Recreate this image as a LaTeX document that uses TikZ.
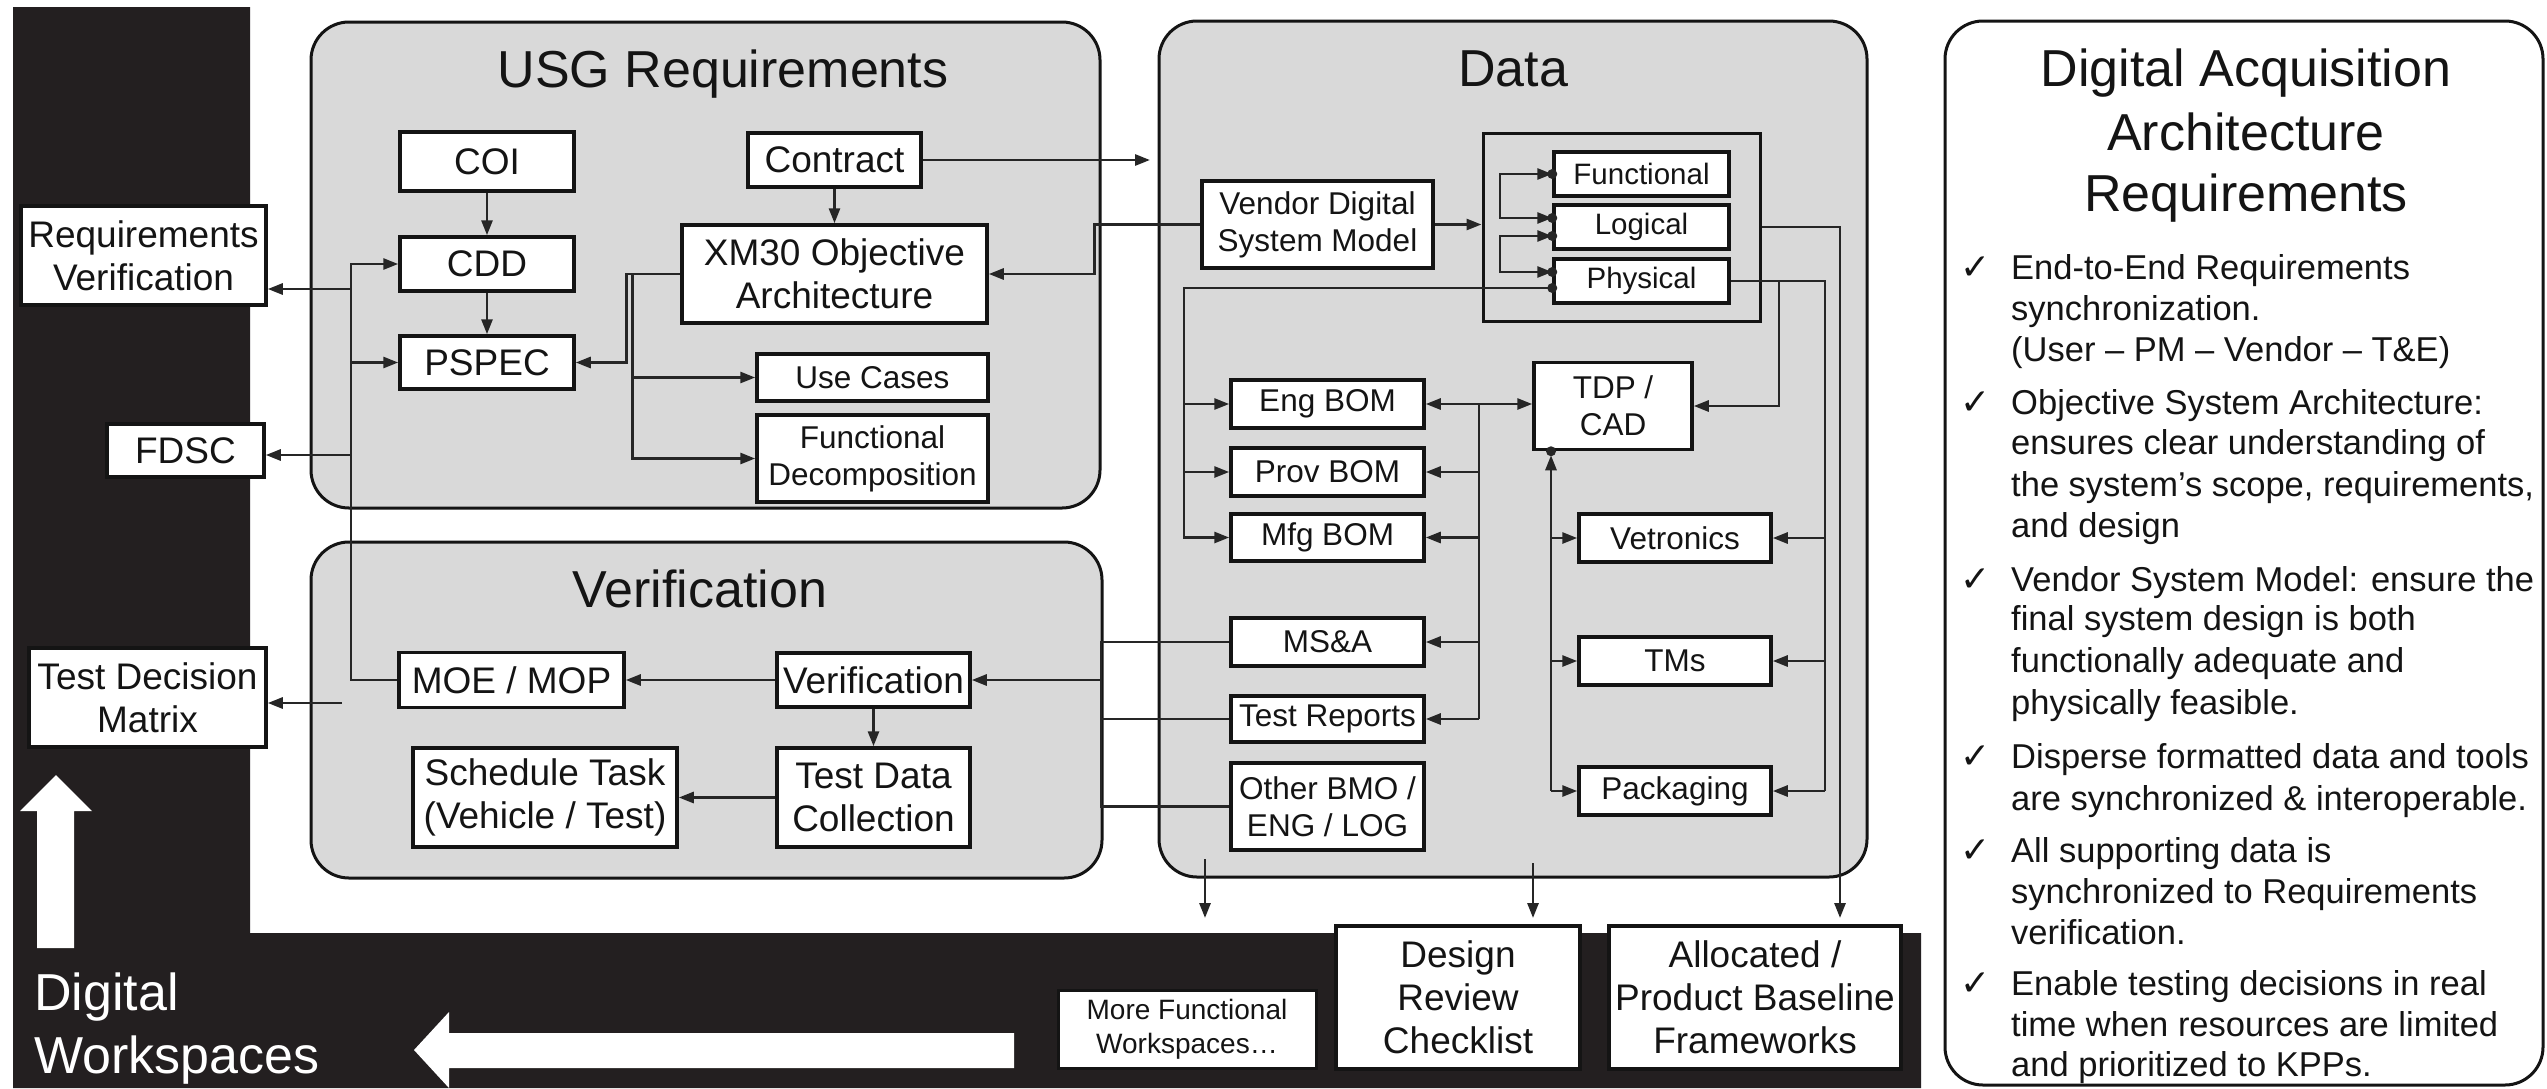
\documentclass[tikz,border=0pt]{standalone}
\usepackage{fontspec}
\setmainfont{Liberation Sans}
\newfontfamily\dejavu{DejaVu Sans}
\usetikzlibrary{arrows.meta,calc}
\definecolor{bandc}{HTML}{231F20}
\definecolor{grayf}{HTML}{D9D9D9}
\definecolor{linec}{HTML}{262626}
\definecolor{inkc}{HTML}{141414}
\begin{document}
\begin{tikzpicture}[x=1pt,y=-1pt,
  box/.style={draw=inkc, line width=3.5pt, fill=white, inner sep=0pt, align=center, text=inkc},
  bx/.style={box, font=\fontsize{37}{43}\selectfont},
  sbx/.style={box, font=\fontsize{31.5}{37}\selectfont},
  tbx/.style={box, font=\fontsize{29.5}{34}\selectfont},
  cont/.style={draw=inkc, line width=3pt, fill=grayf, rounded corners=38pt},
  ln/.style={draw=linec, line width=2.8pt},
  arr/.style={ln, -{Triangle[length=15pt,width=11pt]}},
  dbl/.style={ln, {Triangle[length=15pt,width=11pt]}-{Triangle[length=15pt,width=11pt]}},
  ttl/.style={font=\fontsize{52}{60}\selectfont, text=inkc, anchor=base, inner sep=0pt},
  body/.style={font=\fontsize{34.5}{41}\selectfont, text=inkc, anchor=base west, inner sep=0pt},
  dotc/.style={fill=linec}]
\useasboundingbox (0,0) rectangle (2547,1088);
\fill[white] (0,0) rectangle (2547,1088);
% black L band
\fill[bandc] (13,7) -- (250,7) -- (250,933) -- (1921,933) -- (1921,1088) -- (13,1088) -- cycle;
% white arrows
\fill[white] (37,948) -- (37,811) -- (20,811) -- (56,775) -- (92,811) -- (74,811) -- (74,948) -- cycle;
\fill[white] (1014,1033) -- (449,1033) -- (449,1012) -- (414,1050) -- (449,1088) -- (449,1068) -- (1014,1068) -- cycle;
\node[ttl, anchor=base west, text=white] (dw1) at (34,1010) {Digital};
\node[ttl, anchor=base west, text=white] (dw2) at (34,1073) {Workspaces};
% containers
\draw[cont] (311,22) rectangle (1100,508);
\draw[cont] (311,542) rectangle (1102,878);
\draw[cont] (1159,21) rectangle (1867,877);
\draw[draw=inkc, line width=3pt, fill=white, rounded corners=38pt] (1945,21) rectangle (2543,1085);
\node[ttl] (tUSG) at (723,87) {USG Requirements};
\node[ttl] (tVer) at (700,607) {Verification};
\node[ttl] (tData) at (1513,86) {Data};
% USG boxes
\node[bx, minimum width=174pt, minimum height=59pt] (COI) at (487,161.5) {COI};
\node[bx, minimum width=173pt, minimum height=54pt] (Contract) at (834.5,160) {Contract};
\node[bx, minimum width=174pt, minimum height=54pt] (CDD) at (487,264) {CDD};
\node[bx, minimum width=305pt, minimum height=98pt] (XM30) at (834.5,274) {XM30 Objective\\Architecture};
\node[bx, minimum width=174pt, minimum height=53pt] (PSPEC) at (487,362.5) {PSPEC};
\node[sbx, minimum width=231pt, minimum height=47pt] (UseCases) at (872.5,377.5) {Use Cases};
\node[sbx, minimum width=231pt, minimum height=87pt] (FuncDec) at (872.5,458.5) {Functional\\Decomposition};
% left boxes
\node[bx, minimum width=245pt, minimum height=99pt] (ReqVer) at (143.5,255.5) {Requirements\\Verification};
\node[bx, minimum width=157pt, minimum height=53pt] (FDSC) at (185.5,450.5) {FDSC};
\node[bx, minimum width=237pt, minimum height=99pt] (TDM) at (147.5,697.5) {Test Decision\\Matrix};
% Verification boxes
\node[bx, minimum width=225pt, minimum height=55pt] (MOE) at (511.5,680) {MOE / MOP};
\node[bx, minimum width=193pt, minimum height=54pt] (VerIn) at (873.5,680) {Verification};
\node[bx, minimum width=264pt, minimum height=99pt] (Sched) at (545,797.5) {Schedule Task\\(Vehicle / Test)};
\node[bx, minimum width=193pt, minimum height=99pt] (TDC) at (873.5,797.5) {Test Data\\Collection};
% Data boxes
\node[sbx, minimum width=231pt, minimum height=87pt] (Vendor) at (1317.5,224.5) {Vendor Digital\\System Model};
\node[draw=inkc, line width=3pt, minimum width=277pt, minimum height=188pt, inner sep=0pt] (Frame) at (1621.5,227) {};
\node[tbx, minimum width=175pt, minimum height=44pt] (Functional) at (1641.5,174) {Functional};
\node[tbx, minimum width=175pt, minimum height=44pt] (Logical) at (1641.5,227) {Logical};
\node[tbx, minimum width=175pt, minimum height=44pt] (Physical) at (1641.5,281) {Physical};
\node[sbx, minimum width=193pt, minimum height=48pt] (EngBOM) at (1327.5,404) {Eng BOM};
\node[sbx, minimum width=193pt, minimum height=48pt] (ProvBOM) at (1327.5,472) {Prov BOM};
\node[sbx, minimum width=193pt, minimum height=47pt] (MfgBOM) at (1327.5,537.5) {Mfg BOM};
\node[sbx, minimum width=193pt, minimum height=48pt] (MSA) at (1327.5,642) {MS\&A};
\node[sbx, minimum width=193pt, minimum height=46pt] (TestRep) at (1327.5,719) {Test Reports};
\node[sbx, minimum width=193pt, minimum height=87pt] (Other) at (1327.5,806.5) {Other BMO /\\ENG / LOG};
\node[sbx, minimum width=158pt, minimum height=87pt] (TDP) at (1613,406) {TDP /\\CAD};
\node[sbx, minimum width=192pt, minimum height=48pt] (Vetronics) at (1675,538) {Vetronics};
\node[sbx, minimum width=192pt, minimum height=48pt] (TMs) at (1675,661) {TMs};
\node[sbx, minimum width=192pt, minimum height=48pt] (Packaging) at (1675,791) {Packaging};
% bottom boxes
\node[box, font=\fontsize{28}{34}\selectfont, line width=3pt, minimum width=258pt, minimum height=78pt] (MoreFW) at (1187,1029) {More Functional\\Workspaces…};
\node[bx, minimum width=244pt, minimum height=143pt] (DRC) at (1458,997.5) {Design\\Review\\Checklist};
\node[bx, minimum width=292pt, minimum height=143pt] (Alloc) at (1755,997.5) {Allocated /\\Product Baseline\\Frameworks};
% ---- connectors: USG
\draw[arr] (COI) -- (CDD);
\draw[arr] (CDD) -- (PSPEC);
\draw[arr] (Contract) -- (XM30);
\coordinate (cIn) at (1150,160);
\draw[arr] (Contract.east) -- (cIn);
\draw[arr] (Vendor.west) -- ++(-106,0) |- (XM30.east);
\draw[arr] (XM30.west) -- ++(-54,0) |- (PSPEC.east);
\draw[arr] (XM30.west) ++(-48,0) |- (UseCases.west);
\draw[arr] (XM30.west) ++(-48,0) |- (FuncDec.west);
% left bus
\coordinate (bus) at (351,0);
\draw[arr] (MOE.west) -| (bus |- CDD.west) -- (CDD.west);
\draw[arr] (bus |- PSPEC.west) -- (PSPEC.west);
\coordinate (jRV) at (351,289);
\draw[arr] (jRV) -- (jRV -| ReqVer.east);
\coordinate (jFD) at (351,455);
\draw[arr] (jFD) -- (jFD -| FDSC.east);
\coordinate (jTD) at (342,703);
\draw[arr] (jTD) -- (jTD -| TDM.east);
% Verification
\draw[arr] (VerIn) -- (MOE);
\draw[arr] (VerIn) -- (TDC);
\draw[arr] (TDC) -- (Sched);
\coordinate (vbus) at (1101,0);
\draw[ln] (MSA.west) -- (MSA.west -| vbus) -- (Other.west -| vbus) -- (Other.west);
\draw[ln] (TestRep.west) -- (TestRep.west -| vbus);
\draw[arr] (vbus |- VerIn.east) -- (VerIn.east);
% Data
\draw[arr] (Vendor.east) -- (Vendor.east -| Frame.west);
\coordinate (brk) at (1500,0);
\draw[dbl] (Functional.west) -- (Functional.west -| brk) |- ([yshift=9pt]Logical.west);
\draw[dbl] ([yshift=-9pt]Logical.west) -- ([yshift=-9pt]Logical.west -| brk) |- ([yshift=9pt]Physical.west);
\coordinate (lbus) at (1184,0);
\draw[arr] ([yshift=-7pt]Physical.west) -| (lbus |- MfgBOM.west) -- (MfgBOM.west);
\draw[arr] (lbus |- EngBOM.west) -- (EngBOM.west);
\draw[arr] (lbus |- ProvBOM.west) -- (ProvBOM.west);
\fill[dotc] (Functional.west) circle (5pt);
\fill[dotc] ([yshift=9pt]Logical.west) circle (5pt);
\fill[dotc] ([yshift=-9pt]Logical.west) circle (5pt);
\fill[dotc] ([yshift=9pt]Physical.west) circle (5pt);
\fill[dotc] ([yshift=-7pt]Physical.west) circle (5pt);
\draw[dbl] (EngBOM.east) -- (EngBOM.east -| TDP.west);
\coordinate (bbus) at (1479,0);
\draw[ln] (bbus |- EngBOM.east) -- (bbus |- TestRep.east);
\draw[arr] (bbus |- ProvBOM.east) -- (ProvBOM.east);
\draw[arr] (bbus |- MfgBOM.east) -- (MfgBOM.east);
\draw[arr] (bbus |- MSA.east) -- (MSA.east);
\draw[arr] (bbus |- TestRep.east) -- (TestRep.east);
\coordinate (tbus) at (1551,0);
\draw[arr] (tbus |- Packaging.west) -- ([yshift=-4pt]tbus |- TDP.south);
\fill[dotc] (tbus |- TDP.south) circle (5pt);
\draw[arr] (tbus |- Vetronics.west) -- (Vetronics.west);
\draw[arr] (tbus |- TMs.west) -- (TMs.west);
\draw[arr] (tbus |- Packaging.west) -- (Packaging.west);
\coordinate (rbus) at (1825,0);
\coordinate (pT) at (1779,0);
\draw[ln] (Physical.east) -| (rbus |- Packaging.east);
\draw[arr] (rbus |- Vetronics.east) -- (Vetronics.east);
\draw[arr] (rbus |- TMs.east) -- (TMs.east);
\draw[arr] (rbus |- Packaging.east) -- (Packaging.east);
\draw[arr] (Physical.east -| pT) |- (TDP.east);
\coordinate (aIn) at (1840,918);
\draw[arr] (Frame.east) -| (aIn);
\coordinate (s1) at (1205,859);
\coordinate (s1e) at (1205,918);
\draw[arr] (s1) -- (s1e);
\coordinate (s2) at (1533,863);
\coordinate (s2e) at (1533,918);
\draw[arr] (s2) -- (s2e);
% right panel
\node[ttl] (pt1) at (2246,86) {Digital Acquisition};
\node[ttl] (pt2) at (2246,150) {Architecture};
\node[ttl] (pt3) at (2246,211) {Requirements};
\foreach \yy [count=\n] in {279,414,591,768,862,995}
  \node[body, font=\dejavu\fontsize{36}{40}\selectfont] (ck\n) at (1960,\yy) {✓};
\foreach \yy/\txt [count=\n] in {
  279/{End-to-End Requirements},
  320/{synchronization.},
  361/{(User – PM – Vendor – T\&E)},
  414/{Objective System Architecture:},
  454/{ensures clear understanding of},
  496/{the system’s scope, requirements,},
  537/{and design},
  591/{Vendor System Model: ensure the},
  630/{final system design is both},
  672/{functionally adequate and},
  714/{physically feasible.},
  768/{Disperse formatted data and tools},
  810/{are synchronized \& interoperable.},
  862/{All supporting data is},
  903/{synchronized to Requirements},
  944/{verification.},
  995/{Enable testing decisions in real},
  1036/{time when resources are limited},
  1076/{and prioritized to KPPs.}}
  \node[body] (pl\n) at (2011,\yy) {\txt};
\end{tikzpicture}
\end{document}
